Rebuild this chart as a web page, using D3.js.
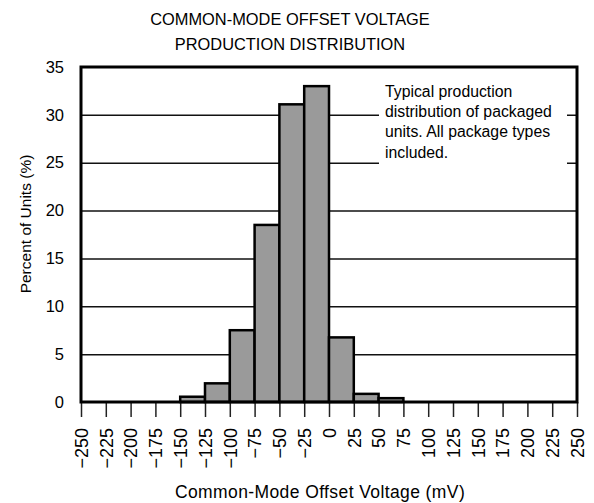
<!DOCTYPE html>
<html>
<head>
<meta charset="utf-8">
<script src="https://cdn.jsdelivr.net/npm/d3@7"></script>
<style>
body { margin: 0; background: #fff; }
text { font-family: "Liberation Sans", Arial, sans-serif; fill: #000; }
</style>
</head>
<body>
<script>
// histogram bins (mV), lower edges
var binStarts = [-150, -125, -100, -75, -50, -25, 0, 25, 50];
var percents = [0.55, 1.95, 7.5, 18.5, 31.1, 33.0, 6.75, 0.85, 0.4];
var binWidth = 25;
var xTicks = d3.range(-250, 251, 25);
var yTicks = [0, 5, 10, 15, 20, 25, 30, 35];
var titleLines = ["COMMON-MODE OFFSET VOLTAGE", "PRODUCTION DISTRIBUTION"];
var noteLines = ["Typical production", "distribution of packaged", "units. All package types", "included."];

var W = 594, H = 503;
var svg = d3.select("body").append("svg").attr("width", W).attr("height", H);

var x = d3.scaleLinear().domain([-250, 250]).range([81, 577]);
var y = d3.scaleLinear().domain([0, 35]).range([402, 67]);

// title
svg.selectAll(".title").data(titleLines).enter().append("text")
	.attr("x", 290).attr("y", function(d, i) { return 25 + i * 24.5; })
	.attr("text-anchor", "middle")
	.style("font-size", "16.4px")
	.text(String);

// grid lines
svg.append("g")
	.attr("transform", "translate(" + x.range()[0] + ",0)")
	.call(d3.axisLeft(y).tickValues(yTicks.slice(1, -1)).tickSize(-(x.range()[1] - x.range()[0])).tickFormat(""))
	.call(function(g) { g.select(".domain").remove(); })
	.selectAll("line").attr("stroke", "#111").attr("stroke-width", 1.5);

// box behind the note
svg.append("rect")
	.attr("x", 379).attr("y", 76).attr("width", 188).attr("height", 92)
	.attr("fill", "#fff");

svg.selectAll(".note").data(noteLines).enter().append("text")
	.attr("x", 385).attr("y", function(d, i) { return 97 + i * 20.2; })
	.style("font-size", "15.8px")
	.text(String);

// bars
svg.selectAll(".bar").data(percents).enter().append("rect")
	.attr("x", function(d, i) { return x(binStarts[i]); })
	.attr("y", function(d) { return y(d); })
	.attr("width", function(d, i) { return x(binStarts[i] + binWidth) - x(binStarts[i]); })
	.attr("height", function(d) { return y(0) - y(d); })
	.attr("fill", "#9a9a9a")
	.attr("stroke", "#000")
	.attr("stroke-width", 2.5);

// x axis ticks and labels
var xAxis = svg.append("g")
	.attr("transform", "translate(0," + y(0) + ")")
	.call(d3.axisBottom(x).tickValues(xTicks).tickSize(15).tickPadding(0));
xAxis.select(".domain").remove();
xAxis.selectAll("line").attr("stroke", "#222").attr("stroke-width", 1.5);
xAxis.selectAll("text")
	.attr("transform", "rotate(-90)")
	.attr("x", -26).attr("y", 0).attr("dy", "0.35em")
	.attr("text-anchor", "end")
	.style("font-size", "18px");

// y axis labels
var yAxis = svg.append("g")
	.attr("transform", "translate(" + x.range()[0] + ",0)")
	.call(d3.axisLeft(y).tickValues(yTicks).tickSize(0).tickPadding(17));
yAxis.select(".domain").remove();
yAxis.selectAll("text").style("font-size", "16.5px");

// plot frame
svg.append("rect")
	.attr("x", x.range()[0]).attr("y", y.range()[1])
	.attr("width", x.range()[1] - x.range()[0])
	.attr("height", y.range()[0] - y.range()[1])
	.attr("fill", "none").attr("stroke", "#000").attr("stroke-width", 3);

// axis titles
svg.append("text")
	.attr("transform", "translate(26," + 224 + ")rotate(-90)")
	.attr("text-anchor", "middle").attr("dy", "0.35em")
	.style("font-size", "15.5px")
	.text("Percent of Units (%)");

svg.append("text")
	.attr("x", 320).attr("y", 498)
	.attr("text-anchor", "middle")
	.style("font-size", "17.5px")
	.style("letter-spacing", "0.4px")
	.text("Common-Mode Offset Voltage (mV)");
</script>
</body>
</html>
